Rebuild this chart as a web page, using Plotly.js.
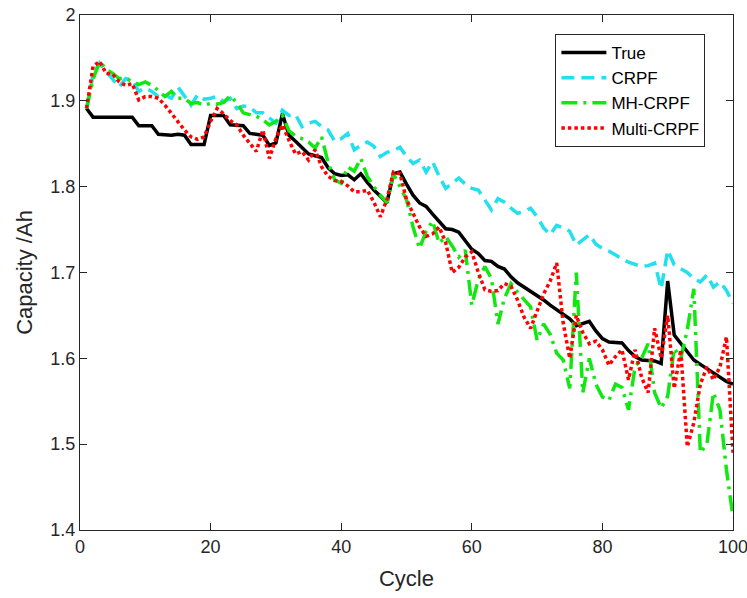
<!DOCTYPE html>
<html>
<head>
<meta charset="utf-8">
<script src="https://cdn.plot.ly/plotly-3.0.1.min.js"></script>
<style>html,body{margin:0;padding:0;background:#fff;}#chart{width:747px;height:598px;}</style>
</head>
<body>
<div id="chart"></div>
<script>
const cycles = Array.from({length: 100}, (_, i) => i + 1);

const trueCap = [1.891,1.881,1.881,1.881,1.880,1.881,1.880,1.881,1.871,1.871,
1.871,1.861,1.860,1.860,1.861,1.860,1.849,1.849,1.849,1.883,
1.883,1.883,1.872,1.871,1.871,1.862,1.861,1.860,1.848,1.851,
1.885,1.860,1.853,1.846,1.838,1.836,1.834,1.822,1.815,1.813,
1.814,1.808,1.815,1.805,1.796,1.789,1.781,1.815,1.817,1.803,
1.790,1.781,1.777,1.768,1.760,1.751,1.750,1.747,1.737,1.727,
1.722,1.714,1.713,1.707,1.704,1.695,1.688,1.683,1.678,1.674,
1.668,1.662,1.657,1.652,1.646,1.638,1.640,1.643,1.632,1.623,
1.619,1.619,1.618,1.609,1.602,1.598,1.598,1.597,1.594,1.690,
1.627,1.617,1.608,1.598,1.593,1.588,1.582,1.577,1.573,1.570];

const crpf = [1.891,1.930,1.944,1.935,1.925,1.916,1.926,1.924,1.911,1.915,
1.911,1.905,1.907,1.903,1.916,1.906,1.895,1.907,1.902,1.903,
1.905,1.899,1.903,1.891,1.894,1.893,1.886,1.886,1.880,1.874,
1.889,1.883,1.884,1.870,1.874,1.876,1.870,1.866,1.853,1.856,
1.862,1.843,1.848,1.852,1.847,1.835,1.840,1.842,1.846,1.835,
1.827,1.831,1.817,1.829,1.812,1.798,1.804,1.810,1.803,1.798,
1.796,1.785,1.773,1.786,1.782,1.775,1.769,1.771,1.775,1.765,
1.752,1.744,1.755,1.752,1.748,1.732,1.738,1.744,1.733,1.728,
1.725,1.720,1.716,1.712,1.709,1.707,1.708,1.711,1.681,1.726,
1.709,1.705,1.700,1.693,1.689,1.697,1.683,1.689,1.679,1.664];

const mhCrpf = [1.891,1.925,1.946,1.937,1.932,1.926,1.926,1.922,1.919,1.922,
1.918,1.912,1.905,1.911,1.903,1.903,1.897,1.898,1.895,1.897,
1.896,1.898,1.906,1.898,1.886,1.884,1.882,1.878,1.872,1.876,
1.883,1.865,1.859,1.856,1.852,1.845,1.858,1.828,1.808,1.804,
1.823,1.818,1.833,1.812,1.800,1.790,1.781,1.815,1.800,1.785,
1.753,1.728,1.748,1.760,1.734,1.742,1.731,1.718,1.726,1.662,
1.692,1.707,1.693,1.640,1.670,1.687,1.677,1.668,1.660,1.621,
1.640,1.628,1.606,1.598,1.565,1.700,1.560,1.600,1.570,1.555,
1.551,1.570,1.566,1.540,1.590,1.600,1.617,1.560,1.542,1.556,
1.612,1.600,1.633,1.681,1.490,1.500,1.560,1.540,1.470,1.415];

const multiCrpf = [1.891,1.940,1.946,1.932,1.931,1.922,1.918,1.920,1.901,1.905,
1.905,1.903,1.895,1.885,1.876,1.866,1.858,1.855,1.858,1.876,
1.891,1.885,1.877,1.872,1.860,1.850,1.841,1.866,1.833,1.856,
1.872,1.854,1.838,1.841,1.831,1.843,1.823,1.812,1.807,1.806,
1.801,1.794,1.794,1.796,1.782,1.765,1.785,1.817,1.815,1.785,
1.770,1.753,1.742,1.745,1.753,1.735,1.700,1.706,1.718,1.724,
1.700,1.680,1.678,1.679,1.687,1.684,1.668,1.648,1.635,1.655,
1.675,1.690,1.711,1.641,1.600,1.650,1.630,1.617,1.620,1.610,
1.592,1.602,1.610,1.575,1.610,1.578,1.560,1.635,1.600,1.650,
1.565,1.610,1.497,1.525,1.570,1.590,1.575,1.590,1.625,1.490];

const seriesNames = ['True', 'CRPF', 'MH-CRPF', 'Multi-CRPF'];
const xTicks = [0, 20, 40, 60, 80, 100];
const yTicks = [1.4, 1.5, 1.6, 1.7, 1.8, 1.9, 2];
const yTickText = ['1.4', '1.5', '1.6', '1.7', '1.8', '1.9', '2'];

const traces = [
  {x: cycles, y: trueCap, name: seriesNames[0], mode: 'lines', line: {color: '#000000', width: 3.5}},
  {x: cycles, y: crpf, name: seriesNames[1], mode: 'lines', line: {color: '#22e0ee', width: 3.5, dash: '13px,7px'}},
  {x: cycles, y: mhCrpf, name: seriesNames[2], mode: 'lines', line: {color: '#11e811', width: 3.5, dash: '16px,6px,3px,6px'}},
  {x: cycles, y: multiCrpf, name: seriesNames[3], mode: 'lines', line: {color: '#ff0000', width: 3.5, dash: '3.5px,3px'}}
];

const axisCommon = {
  showline: true, linecolor: '#262626', linewidth: 1, mirror: 'ticks',
  ticks: 'inside', ticklen: 7, tickcolor: '#262626', tickwidth: 1,
  showgrid: false, zeroline: false, ticklabeloverflow: 'allow',
  tickfont: {family: 'Liberation Sans, Arial, sans-serif', size: 18, color: '#262626'}
};

const layout = {
  width: 747, height: 598,
  margin: {l: 80, r: 14, t: 15, b: 68},
  paper_bgcolor: '#ffffff', plot_bgcolor: '#ffffff',
  font: {family: 'Liberation Sans, Arial, sans-serif', color: '#262626'},
  xaxis: Object.assign({}, axisCommon, {
    range: [0, 100], tickvals: xTicks,
    title: {text: 'Cycle', font: {size: 22, color: '#262626'}, standoff: 15}
  }),
  yaxis: Object.assign({}, axisCommon, {
    range: [1.4, 2], tickvals: yTicks, ticktext: yTickText,
    title: {text: 'Capacity /Ah', font: {size: 22, color: '#262626'}, standoff: 11}
  }),
  showlegend: true,
  legend: {
    x: 0.728, y: 0.963, xanchor: 'left', yanchor: 'top',
    bgcolor: '#ffffff', bordercolor: '#262626', borderwidth: 1,
    font: {family: 'Liberation Sans, Arial, sans-serif', size: 17, color: '#000000'},
    tracegroupgap: 0, itemwidth: 45
  }
};

Plotly.newPlot('chart', traces, layout, {displayModeBar: false, staticPlot: true});
</script>
</body>
</html>
